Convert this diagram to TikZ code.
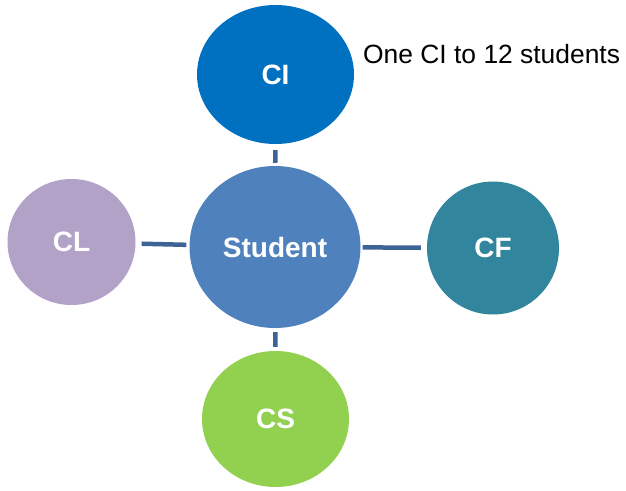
\documentclass[tikz,border=0pt]{standalone}
\usepackage{fontspec}
\setmainfont{Liberation Sans}
\usetikzlibrary{shapes.geometric}
\definecolor{ciblue}{HTML}{0070C0}
\definecolor{studblue}{HTML}{4F81BD}
\definecolor{cllilac}{HTML}{B3A2C7}
\definecolor{cfteal}{HTML}{31859C}
\definecolor{csgreen}{HTML}{92D050}
\definecolor{linkblue}{HTML}{3E6497}
\tikzset{
  bubble/.style={ellipse, draw=none, inner sep=0pt, text=white,
    font=\fontsize{28}{32}\selectfont\bfseries},
  link/.style={draw=linkblue, line width=4.5pt},
}
\begin{document}
\begin{tikzpicture}[x=1pt, y=-1pt]
  \useasboundingbox (0,0) rectangle (626,490);
  % role bubbles
  \node[bubble, fill=ciblue, minimum width=157pt, minimum height=139pt] (CI) at (275.5,74.5) {CI};
  \node[bubble, fill=studblue, minimum width=171pt, minimum height=162pt] (Student) at (275,247) {Student};
  \node[bubble, fill=cllilac, minimum width=128pt, minimum height=126pt] (CL) at (71.5,242) {CL};
  \node[bubble, fill=cfteal, minimum width=132pt, minimum height=133pt] (CF) at (493,248) {CF};
  \node[bubble, fill=csgreen, minimum width=147pt, minimum height=136pt] (CS) at (275.5,419) {CS};
  % short bars between the student and each role
  \draw[link, shorten <=6pt, shorten >=3pt] (CI) -- (Student);
  \draw[link, shorten <=6pt, shorten >=3pt] (CL) -- (Student);
  \draw[link, shorten <=2pt, shorten >=6pt] (Student) -- (CF);
  \draw[link, shorten <=4pt, shorten >=4pt] (Student) -- (CS);
  % ratio note
  \node[anchor=base west, inner sep=0pt, font=\fontsize{26.4}{30}\selectfont] (note) at (363,63) {One CI to 12 students};
\end{tikzpicture}
\end{document}
